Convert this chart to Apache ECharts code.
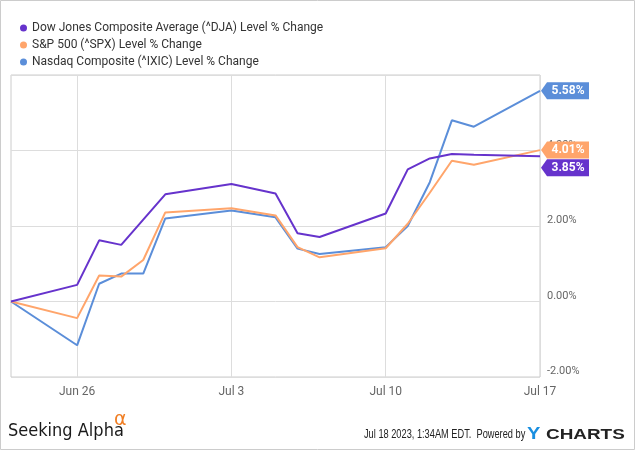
<!DOCTYPE html>
<html>
<head>
<meta charset="utf-8">
<script src="https://cdn.jsdelivr.net/npm/echarts@6/dist/echarts.min.js"></script>
<style>
html,body{margin:0;padding:0;background:#fff;}
#chart{width:635px;height:450px;}
</style>
</head>
<body>
<div id="chart"></div>
<script>
const seriesNames = ['Dow Jones Composite Average (^DJA) Level % Change', 'S&P 500 (^SPX) Level % Change', 'Nasdaq Composite (^IXIC) Level % Change'];
const dates = ['2023-06-23','2023-06-26','2023-06-27','2023-06-28','2023-06-29','2023-06-30','2023-07-03','2023-07-05','2023-07-06','2023-07-07','2023-07-10','2023-07-11','2023-07-12','2023-07-13','2023-07-14','2023-07-17'];
const dja  = [0, 0.44, 1.62, 1.50, 2.17, 2.84, 3.11, 2.86, 1.81, 1.71, 2.33, 3.50, 3.79, 3.91, 3.89, 3.85];
const spx  = [0, -0.44, 0.69, 0.66, 1.10, 2.36, 2.47, 2.28, 1.44, 1.17, 1.41, 2.06, 2.88, 3.73, 3.62, 4.01];
const ixic = [0, -1.16, 0.47, 0.74, 0.74, 2.20, 2.41, 2.23, 1.40, 1.26, 1.44, 2.00, 3.16, 4.80, 4.63, 5.58];
const xTickDates = ['2023-06-26','2023-07-03','2023-07-10','2023-07-17'];
const xTickLabels = ['Jun 26','Jul 3','Jul 10','Jul 17'];
const xRange = ['2023-06-23','2023-07-17'];
const yTicks = [-2, 0, 2, 4, 6];
const colors = ['#6633cc', '#ffa56b', '#5b8ed9'];

// day number (days since first date of range), computed with UTC to avoid DST issues
function dayNum(s){ const p = s.split('-').map(Number); return Math.round(Date.UTC(p[0], p[1]-1, p[2]) / 86400000); }
const day0 = dayNum(xRange[0]);
const dx = s => dayNum(s) - day0;
const tickDays = xTickDates.map(dx);

const tagPath = 'path://M0,8.5 L6,0 L48,0 L48,17 L6,17 Z';
function makeSeries(i, values, tagDy){
  const n = values.length - 1;
  return {
    name: seriesNames[i],
    type: 'line',
    data: dates.map((d, k) => [dx(d), values[k]]),
    showSymbol: false,
    symbol: 'none',
    lineStyle: { width: 2, color: colors[i] },
    itemStyle: { color: colors[i] },
    z: 5 - i,
    markPoint: {
      silent: true,
      symbol: tagPath,
      symbolSize: [48, 17],
      symbolOffset: [25, tagDy],
      itemStyle: { color: colors[i] },
      z: 10,
      label: {
        show: true,
        position: 'inside',
        offset: [3, 0],
        color: '#fff',
        fontWeight: 'bold',
        fontSize: 12,
        fontFamily: 'Roboto',
        formatter: p => p.value.toFixed(2) + '%'
      },
      data: [{ coord: [dx(dates[n]), values[n]], value: values[n] }]
    }
  };
}

const chart = echarts.init(document.getElementById('chart'), null, { renderer: 'canvas' });
chart.setOption({
  animation: false,
  backgroundColor: '#fff',
  color: colors,
  textStyle: { fontFamily: 'Roboto' },
  legend: {
    orient: 'vertical',
    left: 15,
    top: 16,
    itemGap: 3,
    icon: 'circle',
    itemWidth: 7,
    itemHeight: 7,
    textStyle: { fontSize: 12, color: '#333', fontFamily: 'Roboto', lineHeight: 14 },
    data: seriesNames
  },
  grid: {
    left: 11, right: 95, top: 75, bottom: 73,
    show: true, borderColor: '#cccccc', borderWidth: 1, backgroundColor: 'transparent'
  },
  xAxis: {
    type: 'value',
    min: 0,
    max: dx(xRange[1]),
    axisLine: { show: false },
    axisTick: { show: false, customValues: tickDays },
    splitLine: { show: true, lineStyle: { color: '#dddddd', width: 1 } },
    axisLabel: {
      customValues: tickDays,
      color: '#666',
      fontSize: 12,
      margin: 9,
      formatter: v => { const k = tickDays.indexOf(v); return k >= 0 ? xTickLabels[k] : ''; }
    }
  },
  yAxis: {
    type: 'value',
    position: 'right',
    min: yTicks[0],
    max: yTicks[yTicks.length - 1],
    interval: 2,
    axisLine: { show: false },
    axisTick: { show: false },
    splitLine: { show: true, lineStyle: { color: '#dddddd', width: 1 } },
    axisLabel: {
      color: '#666',
      fontSize: 11,
      margin: 7,
      verticalAlign: 'bottom',
      formatter: v => v === yTicks[yTicks.length - 1] ? '' : v.toFixed(2) + '%'
    }
  },
  series: [
    makeSeries(0, dja, 11.5),
    makeSeries(1, spx, 0),
    makeSeries(2, ixic, 0)
  ],
  graphic: [
    { type: 'rect', shape: { x: 0.5, y: 0.5, width: 634, height: 449 }, style: { fill: 'none', stroke: '#cccccc', lineWidth: 1 }, silent: true },
    { type: 'text', x: 8, y: 422, style: { text: 'Seeking Alpha', font: '18px "DejaVu Sans Condensed", "Liberation Sans", sans-serif', fill: '#1a1a1a' } },
    { type: 'text', x: 114, y: 411, style: { text: 'α', font: '19px "DejaVu Sans", sans-serif', fill: '#f07d22' } },
    { type: 'text', x: 364, y: 429, scaleX: 0.77, style: { text: 'Jul 18 2023, 1:34AM EDT.  Powered by', font: '12px "Liberation Sans", sans-serif', fill: '#222' } },
    { type: 'text', x: 527, y: 427, scaleX: 1.25, style: { text: 'Y', font: 'bold 16px "Liberation Sans", sans-serif', fill: '#1a8fe0' } },
    { type: 'text', x: 546, y: 428, scaleX: 1.35, style: { text: 'CHARTS', font: 'bold 14px "Liberation Sans", sans-serif', fill: '#222' } }
  ]
});
</script>
</body>
</html>
